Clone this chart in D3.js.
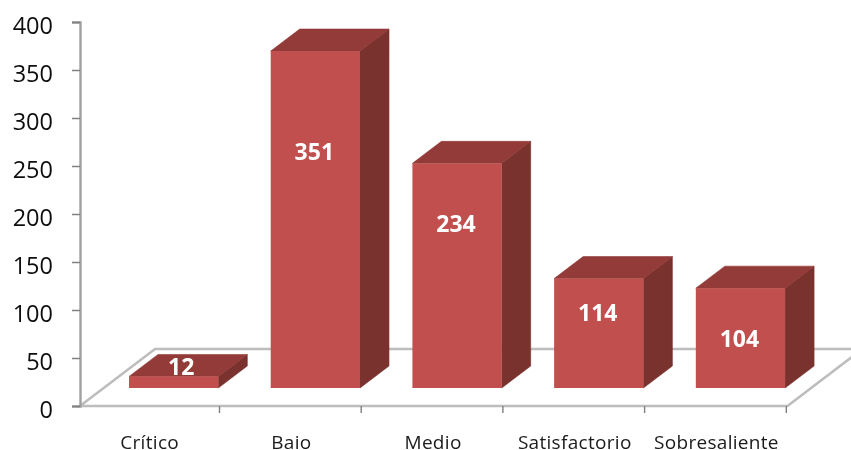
<!DOCTYPE html>
<html><head><meta charset="utf-8">
<script src="https://cdn.jsdelivr.net/npm/d3@7"></script>
<style>html,body{margin:0;padding:0;background:#fff}svg{display:block}</style>
</head><body><svg id="c" width="851" height="450"></svg>
<script>
const categories = ["Crítico","Baio","Medio","Satisfactorio","Sobresaliente"];
const values = [12,351,234,114,104];
const yTicks = [0,50,100,150,200,250,300,350,400];
// where each value label sits along its bar's front face (0 = top, 1 = base)
const labelAlong = [-0.83,0.30,0.27,0.31,0.51];

const W=851,H=450;
const plot={left:80,right:787.5,top:22,bottom:406};
const floorDx=75,floorDy=57, barDx=29, barDy=22, barLift=18, barShift=25;
const svg=d3.select("#c");
const defs=svg.append("defs");
function blur(id,sd){
  defs.append("filter").attr("id",id).attr("filterUnits","userSpaceOnUse")
    .attr("x",0).attr("y",0).attr("width",W).attr("height",H)
    .append("feGaussianBlur").attr("stdDeviation",sd);
}
blur("soft",0.45); blur("softline",0.6); blur("softtext",0.3);

const x=d3.scaleBand().domain(categories).range([77.8,786.3]).paddingInner(0.37).paddingOuter(0.185);
const y=d3.scaleLinear().domain([0,400]).range([plot.bottom,plot.top]);

// floor
const floor=svg.append("g").attr("filter","url(#softline)");
floor.append("path")
  .attr("d",d3.line()([[plot.left,plot.bottom],[plot.left+floorDx,plot.bottom-floorDy],[plot.right+floorDx,plot.bottom-floorDy],[plot.right,plot.bottom]])+"Z")
  .attr("fill","#fff").attr("stroke","#bdbdbd").attr("stroke-width",2.6);

// axes
const yAxis=d3.axisLeft(y).tickValues(yTicks).tickSize(8).tickFormat("");
const gy=svg.append("g").attr("filter","url(#soft)").append("g").attr("transform",`translate(${plot.left},0)`).call(yAxis);
gy.select(".domain").attr("stroke","#a0a0a0").attr("stroke-width",2.4);
gy.selectAll(".tick line").attr("stroke","#808080").attr("stroke-width",1.5);
svg.append("g").attr("filter","url(#softtext)").selectAll("text").data(yTicks).join("text")
  .attr("x",plot.left-27).attr("y",d=>y(d)).attr("dy","0.49em").attr("text-anchor","end")
  .attr("font-family","'Open Sans',sans-serif").attr("font-size",23.5).attr("fill","#111").text(d=>d);

const xAxis=d3.axisBottom(x).tickSize(0);
const gx=svg.append("g").attr("filter","url(#softtext)").append("g").attr("transform",`translate(0,${plot.bottom})`).call(xAxis);
gx.select(".domain").remove();
gx.selectAll("text").attr("font-family","'Open Sans',sans-serif").attr("font-size",19).attr("letter-spacing",0.3).attr("fill","#1a1a1a").attr("y",43).attr("dy",0).attr("dx",1);
// category boundaries as tick marks
const step=x.step();
svg.append("g").attr("filter","url(#soft)").append("g").attr("transform",`translate(0,${plot.bottom})`)
  .selectAll("line").data(d3.range(1,categories.length+1)).join("line")
  .attr("x1",i=>x.range()[0]+i*step).attr("x2",i=>x.range()[0]+i*step).attr("y1",0).attr("y2",7)
  .attr("stroke","#808080").attr("stroke-width",1.4);

// bars
const rows=categories.map((c,i)=>({c,v:values[i],along:labelAlong[i]}));
const bars=svg.append("g").attr("filter","url(#soft)").selectAll("g").data(rows).join("g");
const fx=d=>x(d.c)+barShift, fw=x.bandwidth(), base=plot.bottom-barLift;
const barTop=d=>y(d.v)-barLift;
bars.append("path").attr("fill","#7a302e").attr("stroke","#7a302e").attr("stroke-width",0.6).attr("d",d=>{const a=fx(d)+fw;return d3.line()([[a,barTop(d)],[a+barDx,barTop(d)-barDy],[a+barDx,base-barDy],[a,base]])+"Z";});
bars.append("path").attr("fill","#923a38").attr("stroke","#923a38").attr("stroke-width",0.6).attr("d",d=>{const a=fx(d);return d3.line()([[a,barTop(d)],[a+barDx,barTop(d)-barDy],[a+fw+barDx,barTop(d)-barDy],[a+fw,barTop(d)]])+"Z";});
bars.append("rect").attr("fill","#c0504d").attr("x",fx).attr("y",barTop).attr("width",fw).attr("height",d=>base-barTop(d));

// labels
svg.append("g").attr("filter","url(#softtext)").selectAll("text").data(rows).join("text")
  .attr("x",d=>fx(d)+fw/2+(d.v<20?7.5:-1))
  .attr("y",d=>barTop(d)+d.along*(base-barTop(d)))
  .attr("dy","0.36em").attr("text-anchor","middle")
  .attr("font-family","'Open Sans',sans-serif").attr("font-weight",700).attr("font-size",23).attr("fill","#fff")
  .text(d=>d.v);
</script></body></html>
